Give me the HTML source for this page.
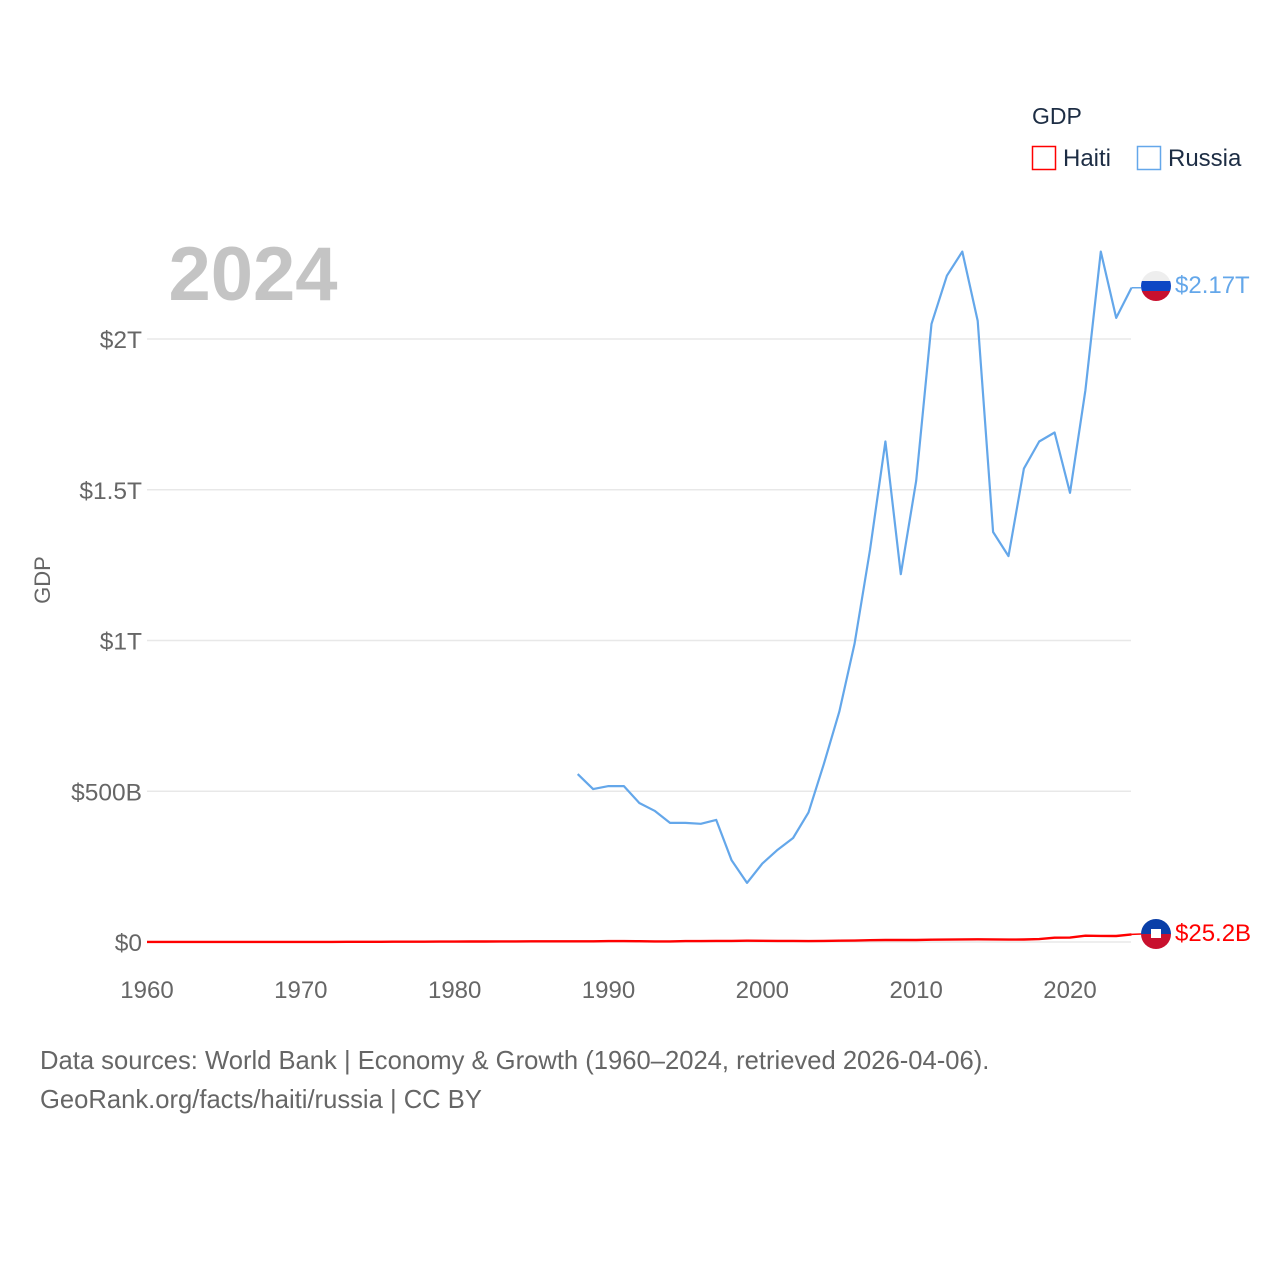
<!DOCTYPE html>
<html><head><meta charset="utf-8"><style>
html,body{margin:0;padding:0;background:#fff;}
svg text{font-family:"Liberation Sans",sans-serif;}
</style></head><body>
<svg id="chart" width="1280" height="1280" viewBox="0 0 1280 1280" xmlns="http://www.w3.org/2000/svg">
<g id="grid"></g>
<g id="yticks"></g>
<g id="xticks"></g>
<text x="253" y="300" font-size="76" font-weight="bold" fill="#c4c4c4" text-anchor="middle">2024</text>
<text transform="translate(50,580) rotate(-90)" font-size="22" fill="#666" text-anchor="middle">GDP</text>
<g id="series"></g>
<g>
<text x="1032" y="124" font-size="23" fill="#1d2d44">GDP</text>
<g><rect x="1032.5" y="146.5" width="23" height="23" fill="none" stroke="#ff0000" stroke-width="1.5"/><text x="1063" y="166" font-size="24" fill="#1d2d44">Haiti</text></g>
<g><rect x="1137.5" y="146.5" width="23" height="23" fill="none" stroke="#64a7ea" stroke-width="1.5"/><text x="1168" y="166" font-size="24" fill="#1d2d44">Russia</text></g>
</g>
<g>
<clipPath id="cr"><circle cx="1156" cy="286" r="15"/></clipPath>
<g clip-path="url(#cr)"><rect x="1140" y="270" width="32" height="11" fill="#eeeeee"/><rect x="1140" y="281" width="32" height="10" fill="#0d47c4"/><rect x="1140" y="291" width="32" height="12" fill="#c8102e"/></g>
</g>
<text x="1175" y="293" font-size="24" fill="#64a7ea">$2.17T</text>
<g>
<clipPath id="ch"><circle cx="1156" cy="934" r="15"/></clipPath>
<g clip-path="url(#ch)"><rect x="1140" y="918" width="32" height="16" fill="#0a3fa8"/><rect x="1140" y="934" width="32" height="16" fill="#c8102e"/><rect x="1151" y="929" width="10" height="9" fill="#fff"/></g>
</g>
<text x="1175" y="941" font-size="24" fill="#ff0000">$25.2B</text>
<text x="40" y="1069" font-size="25.6" fill="#666">Data sources: World Bank | Economy &amp; Growth (1960–2024, retrieved 2026-04-06).</text>
<text x="40" y="1108" font-size="25.6" fill="#666">GeoRank.org/facts/haiti/russia | CC BY</text>
</svg>
<script>
const xTicks=[1960,1970,1980,1990,2000,2010,2020];
const yTicks=[0,0.5,1,1.5,2];
const yTickLabels=["$0","$500B","$1T","$1.5T","$2T"];
const russiaYears=[1988,1989,1990,1991,1992,1993,1994,1995,1996,1997,1998,1999,2000,2001,2002,2003,2004,2005,2006,2007,2008,2009,2010,2011,2012,2013,2014,2015,2016,2017,2018,2019,2020,2021,2022,2023,2024];
const russiaGDP=[0.557,0.507,0.517,0.517,0.461,0.435,0.395,0.395,0.392,0.405,0.271,0.196,0.26,0.306,0.345,0.43,0.591,0.764,0.99,1.30,1.66,1.22,1.53,2.05,2.21,2.29,2.06,1.36,1.28,1.57,1.66,1.69,1.49,1.83,2.29,2.07,2.17];
const haitiStart=1960;
const haitiGDPBillions=[0.27,0.28,0.29,0.30,0.32,0.33,0.34,0.34,0.35,0.36,0.39,0.42,0.43,0.50,0.59,0.69,0.85,0.98,1.12,1.30,1.48,1.60,1.70,1.85,2.03,2.18,2.45,2.20,2.32,2.45,2.85,3.0,2.5,2.0,2.1,2.9,3.0,3.5,3.8,4.3,4.0,3.8,3.5,2.9,3.7,4.3,4.8,5.9,6.5,6.6,6.6,7.5,7.9,8.5,8.8,8.7,8.0,8.4,9.7,14.3,14.5,20.9,20.3,19.9,25.2];
const X=y=>147+(y-1960)*(1070-147)/60;
const Y=t=>942-t*(942-339)/2;
const ns="http://www.w3.org/2000/svg";
function mk(tag,attrs,parent){const e=document.createElementNS(ns,tag);for(const k in attrs)e.setAttribute(k,attrs[k]);parent.appendChild(e);return e;}
const grid=document.getElementById('grid'),yt=document.getElementById('yticks'),xt=document.getElementById('xticks'),ser=document.getElementById('series');
yTicks.forEach((v,i)=>{
 const l=mk('line',{x1:147,x2:1131,y1:Y(v),y2:Y(v),stroke:'#e8e8e8','stroke-width':1.5},grid);
 
 
 const t=mk('text',{x:142,y:Y(v)+9,'font-size':24.5,fill:'#666','text-anchor':'end'},yt);
 t.textContent=yTickLabels[i];
 
 
});
xTicks.forEach(v=>{
 const t=mk('text',{x:X(v),y:998,'font-size':24,fill:'#666','text-anchor':'middle'},xt);
 t.textContent=v;
 
 
});
const rp=russiaYears.map((y,i)=>X(y).toFixed(1)+','+Y(russiaGDP[i]).toFixed(1)).join(' ');
const r=mk('polyline',{points:rp,fill:'none',stroke:'#64a7ea','stroke-width':2.2,'stroke-linejoin':'round'},ser);


const hp=haitiGDPBillions.map((v,i)=>X(haitiStart+i).toFixed(1)+','+Y(v/1000).toFixed(1)).join(' ');
const h=mk('polyline',{points:hp,fill:'none',stroke:'#ff0000','stroke-width':2.4,'stroke-linejoin':'round'},ser);


const lastR=russiaGDP[russiaGDP.length-1];
const c1=mk('line',{x1:X(2024),x2:1141,y1:Y(lastR),y2:Y(lastR),stroke:'#64a7ea','stroke-width':1.5},ser);


const lastH=haitiGDPBillions[haitiGDPBillions.length-1]/1000;
const c2=mk('line',{x1:X(2024),x2:1141,y1:Y(lastH),y2:934,stroke:'#ff0000','stroke-width':1.5},ser);


</script>
</body></html>
